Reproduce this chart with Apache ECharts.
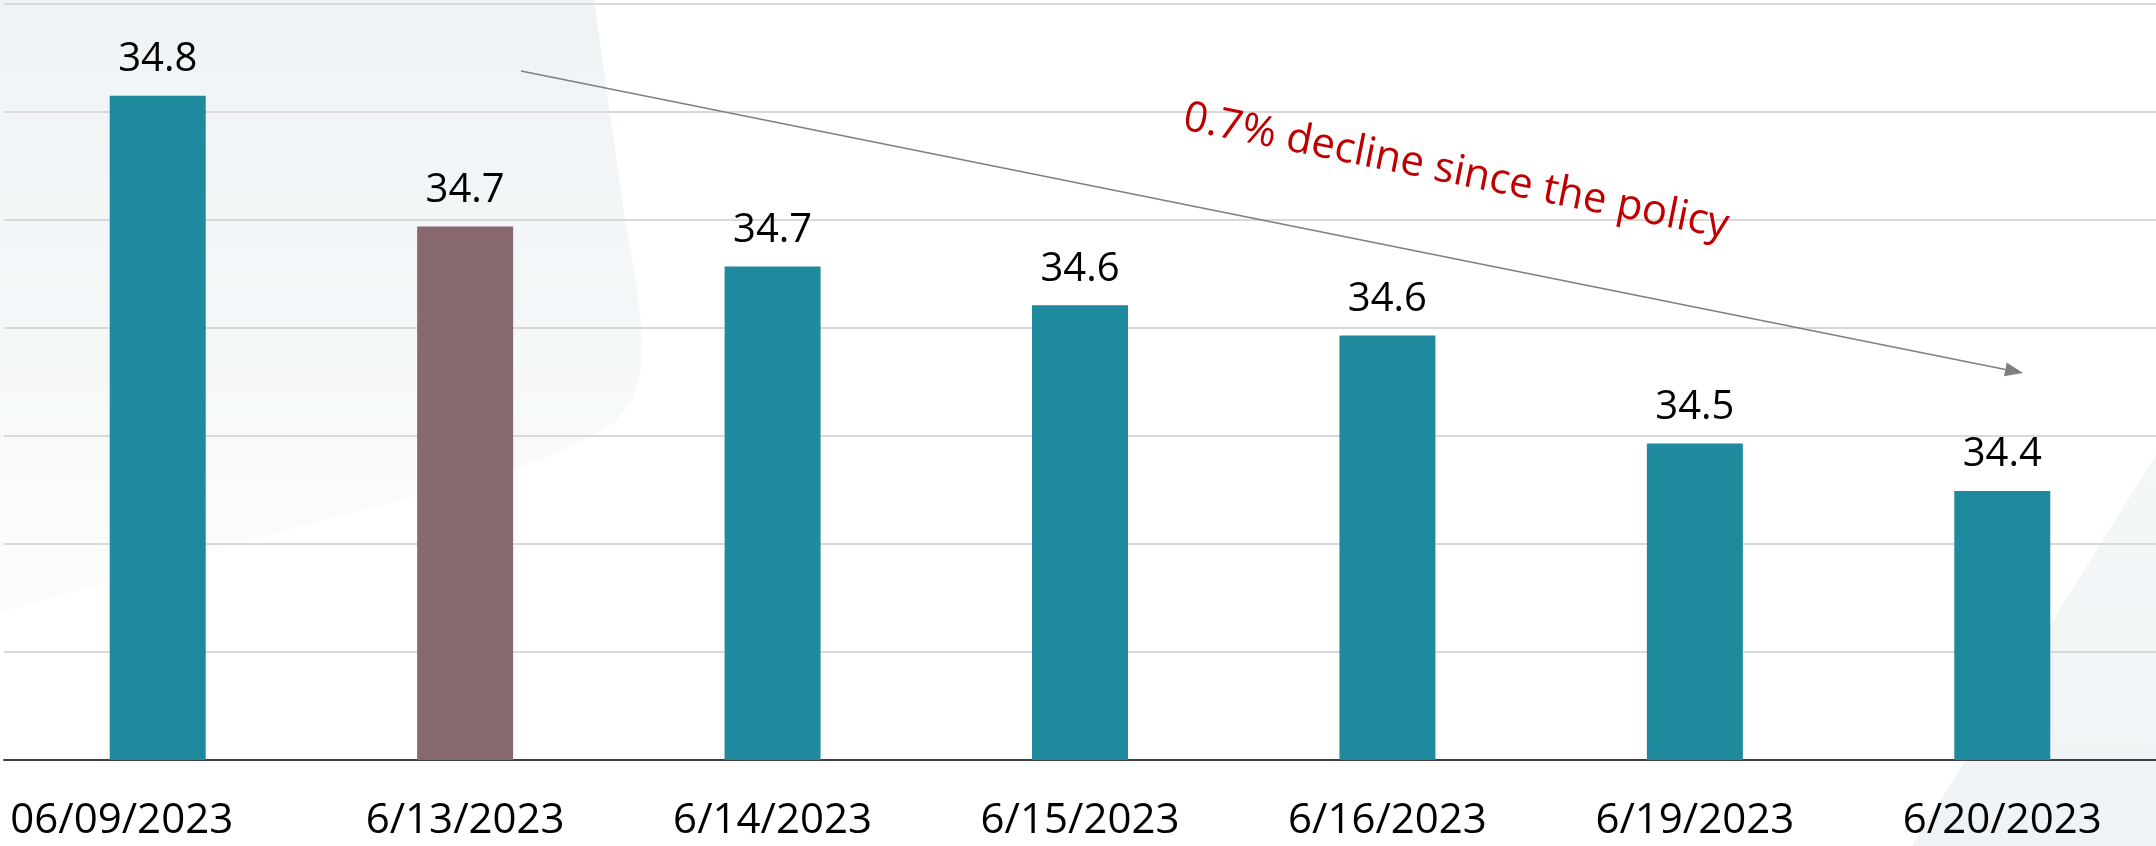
<!DOCTYPE html>
<html>
<head>
<meta charset="utf-8">
<script src="https://cdn.jsdelivr.net/npm/echarts@6/dist/echarts.min.js"></script>
<style>
html,body{margin:0;padding:0;background:#fff;}
#chart{width:2156px;height:846px;}
</style>
</head>
<body>
<div id="chart"></div>
<script>
// ---- data ----
const categories = ['06/09/2023', '6/13/2023', '6/14/2023', '6/15/2023', '6/16/2023', '6/19/2023', '6/20/2023'];
const values = [34.815, 34.694, 34.657, 34.621, 34.593, 34.493, 34.449];
const highlightIndex = 1; // policy date bar
const annotationText = '0.7% decline since the policy';

// ---- styles ----
const TEAL = '#1F899E';
const MAUVE = '#886970';
const FONT = '"Open Sans", "Noto Sans", sans-serif';

const chart = echarts.init(document.getElementById('chart'), null, {renderer: 'canvas'});

// arrow geometry (annotation)
const arrowStart = [521, 71];
const arrowTip = [2023, 373];
const dx = arrowTip[0] - arrowStart[0], dy = arrowTip[1] - arrowStart[1];
const len = Math.sqrt(dx * dx + dy * dy);
const ux = dx / len, uy = dy / len;
const headLen = 18, headHalf = 7;
const base = [arrowTip[0] - headLen * ux, arrowTip[1] - headLen * uy];
const angle = Math.atan2(dy, dx);

function vgrad(c0, c1) {
  return {type: 'linear', x: 0, y: 0, x2: 0, y2: 1, colorStops: [{offset: 0, color: c0}, {offset: 1, color: c1}]};
}

const labelStyle = {color: '#000', fontSize: 42, fontFamily: FONT};

const option = {
  backgroundColor: '#ffffff',
  animation: false,
  grid: {left: 4, right: 0, top: 4, bottom: 86, containLabel: false},
  xAxis: {
    type: 'category',
    data: categories,
    axisLine: {show: true, lineStyle: {color: '#404040', width: 2}},
    axisTick: {show: false},
    axisLabel: Object.assign({}, labelStyle, {
      margin: 40,
      interval: 0,
      formatter: (v, i) => i === 0 ? '{first|' + v + '}' : v,
      rich: {first: Object.assign({}, labelStyle, {padding: [0, 72, 0, 0]})}
    })
  },
  yAxis: {
    type: 'value',
    min: 34.2,
    max: 34.9,
    interval: 0.1,
    axisLine: {show: false},
    axisTick: {show: false},
    axisLabel: {show: false},
    splitLine: {show: true, lineStyle: {color: '#D9D9D9', width: 2}}
  },
  series: [{
    type: 'bar',
    barWidth: 96,
    data: values.map((v, i) => ({
      value: v,
      itemStyle: {color: i === highlightIndex ? MAUVE : TEAL}
    })),
    label: {
      show: true,
      position: 'top',
      distance: 16,
      color: '#000',
      fontSize: 40,
      fontFamily: FONT,
      formatter: p => p.value.toFixed(1)
    },
    z: 3
  }],
  graphic: [
    {
      type: 'polygon',
      z: -10,
      silent: true,
      shape: {points: [[0, 0], [594, 0], [625, 220], [636, 280], [642, 330], [641, 370], [632, 400], [615, 422], [580, 443], [540, 460], [491, 477], [430, 492], [268, 535], [0, 613]]},
      style: {fill: vgrad('#EEF3F5', '#FBFCFD')}
    },
    {
      type: 'polygon',
      z: -10,
      silent: true,
      shape: {points: [[2156, 455], [1912, 846], [2156, 846]]},
      style: {fill: vgrad('#F4F7F8', '#EFF3F5')}
    },
    {
      type: 'line',
      z: 10,
      silent: true,
      shape: {x1: arrowStart[0], y1: arrowStart[1], x2: base[0], y2: base[1]},
      style: {stroke: '#7F7F7F', lineWidth: 1.5}
    },
    {
      type: 'polygon',
      z: 10,
      silent: true,
      shape: {points: [
        arrowTip,
        [base[0] - headHalf * uy, base[1] + headHalf * ux],
        [base[0] + headHalf * uy, base[1] - headHalf * ux]
      ]},
      style: {fill: '#7F7F7F'}
    },
    {
      type: 'text',
      z: 10,
      silent: true,
      x: 1456,
      y: 172,
      rotation: -angle,
      style: {
        text: annotationText,
        fill: '#C00000',
        font: '42px ' + FONT,
        align: 'center',
        verticalAlign: 'middle'
      }
    }
  ]
};
chart.setOption(option);
</script>
</body>
</html>
